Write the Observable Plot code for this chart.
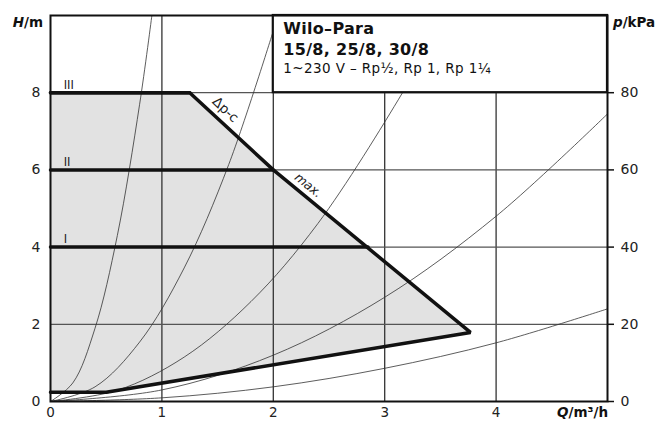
<!DOCTYPE html>
<html>
<head>
<meta charset="utf-8">
<script src="https://cdn.jsdelivr.net/npm/d3@7"></script>
<script src="https://cdn.jsdelivr.net/npm/@observablehq/plot@0.6"></script>
<style>
  html, body { margin: 0; padding: 0; background: #fff; overflow: hidden; }
  #chart svg { display: block; }
</style>
</head>
<body>
<div id="chart"></div>
<script>
// ---------- data ----------
const qTicks = [0, 1, 2, 3, 4];
const hTicks = [0, 2, 4, 6, 8];
const pTickLabels = ["0", "20", "40", "60", "80"];

// operating envelope (grey area, Δp-c / max. boundary)
const envQ = [0, 1.25, 2, 3.77, 0.5, 0];
const envH = [8, 8, 6, 1.79, 0.24, 0.24];

// speed stages
const stageNames = ["III", "II", "I"];
const stageH = [8, 6, 4];
const stageQEnd = [1.25, 2, 2.85];

// system curves (thin lines through the origin)
const sysA_Q = [0, 0.2, 0.4, 0.6, 0.8, 0.91];
const sysA_H = [0, 0.48, 1.9, 4.3, 7.7, 10];
const sysB_Q = [0, 0.4, 0.8, 1.2, 1.6, 2.0];
const sysB_H = [0, 0.38, 1.54, 3.46, 6.14, 9.6];
const sysC_Q = [0, 0.6, 1.2, 1.8, 2.4, 3.16, 3.4];
const sysC_H = [0, 0.29, 1.15, 2.59, 4.61, 8.0, 9.25];
const sysD_Q = [0, 1, 2, 3, 4, 5];
const sysD_H = [0, 0.3, 1.2, 2.7, 4.8, 7.45];
const sysE_Q = [0, 1, 2, 3, 4, 5];
const sysE_H = [0, 0.095, 0.38, 0.86, 1.52, 2.4];

const titleLines = ["Wilo–Para", "15/8, 25/8, 30/8", "1~230 V – Rp½, Rp 1, Rp 1¼"];
const curveLabels = ["Δp-c", "max."];

// ---------- tables ----------
const envelope = envQ.map((q, i) => ({q, h: envH[i]}));
const stages = stageNames.flatMap((n, i) => [
  {n, q: 0, h: stageH[i]}, {n, q: stageQEnd[i], h: stageH[i]}
]);
const stageLabels = stageNames.map((n, i) => ({n, q: 0.1, h: stageH[i]}));
const sysCurves = [
  ["A", sysA_Q, sysA_H], ["B", sysB_Q, sysB_H], ["C", sysC_Q, sysC_H],
  ["D", sysD_Q, sysD_H], ["E", sysE_Q, sysE_H]
].flatMap(([id, Q, H]) => Q.map((q, i) => ({id, q, h: H[i]})));

const font = "DejaVu Sans";

const chart = Plot.plot({
  width: 661,
  height: 421,
  marginLeft: 50,
  marginRight: 54,
  marginTop: 15,
  marginBottom: 20,
  x: {domain: [0, 5], axis: null},
  y: {domain: [0, 10], axis: null},
  style: {fontFamily: font, fontSize: "14px", background: "white", color: "#222"},
  marks: [
    // grey operating field
    Plot.line(envelope, {x: "q", y: "h", fill: "#e2e2e2", stroke: "none"}),
    // grid
    Plot.ruleX([1, 2, 3, 4], {stroke: "#333", strokeWidth: 1.3}),
    Plot.ruleY([2, 4, 6, 8], {stroke: "#555", strokeWidth: 1.2}),
    // system curves
    Plot.line(sysCurves, {x: "q", y: "h", z: "id", stroke: "#333", strokeWidth: 0.8, curve: "catmull-rom", clip: true}),
    // stage lines
    Plot.line(stages, {x: "q", y: "h", z: "n", stroke: "#111", strokeWidth: 3.5}),
    // envelope outline
    Plot.line(envelope, {x: "q", y: "h", stroke: "#111", strokeWidth: 3.5, strokeLinejoin: "miter"}),
    // title box
    Plot.rect([{x1: 2, x2: 5, y1: 8, y2: 10}], {x1: "x1", x2: "x2", y1: "y1", y2: "y2", fill: "white", stroke: "#111", strokeWidth: 2.2}),
    Plot.text([titleLines[0]], {x: 2, y: 10, text: d => d, dx: 10, dy: 18, textAnchor: "start", lineAnchor: "bottom", fontWeight: "bold", fontSize: 16, fill: "#111"}),
    Plot.text([titleLines[1]], {x: 2, y: 10, text: d => d, dx: 10, dy: 39, textAnchor: "start", lineAnchor: "bottom", fontWeight: "bold", fontSize: 16, fill: "#111"}),
    Plot.text([titleLines[2]], {x: 2, y: 10, text: d => d, dx: 10, dy: 57, textAnchor: "start", lineAnchor: "bottom", fontSize: 13.5, fill: "#111"}),
    // stage labels
    Plot.text(stageLabels, {x: "q", y: "h", text: "n", dx: 2, dy: -4, textAnchor: "start", lineAnchor: "bottom", fontSize: 11.5, fill: "#222"}),
    // curve labels
    Plot.text([curveLabels[0]], {x: 1.57, y: 7.56, text: d => d, rotate: 43, fontSize: 13.5, fill: "#222"}),
    Plot.text([curveLabels[1]], {x: 2.314, y: 5.6, text: d => d, rotate: 39, fontSize: 12.5, fontStyle: "italic", fill: "#222"}),
    // axes
    Plot.axisY(hTicks, {anchor: "left", tickSize: 0, tickPadding: 10, fontSize: 14}),
    Plot.axisY(hTicks, {anchor: "right", tickSize: 6, tickPadding: 7, fontSize: 14, stroke: "#111", strokeWidth: 1.5,
      tickFormat: d => pTickLabels[hTicks.indexOf(d)]}),
    Plot.axisX(qTicks, {anchor: "bottom", tickSize: 0, tickPadding: 6, fontSize: 13.5}),
    Plot.frame({stroke: "#111", strokeWidth: 2})
  ]
});

document.getElementById("chart").appendChild(chart);

// title box lines: widen slightly to match the reference typeface
d3.select(chart).selectAll("text").filter(function () {
  return titleLines.includes(this.textContent);
}).attr("letter-spacing", function () {
  return this.textContent === titleLines[2] ? "0.4px" : "0.3px";
});

// axis titles with mixed styling
const svg = d3.select(chart);
function title(x, y, anchor, parts) {
  const t = svg.append("text").attr("x", x).attr("y", y).attr("text-anchor", anchor)
    .attr("font-family", font).attr("font-size", 13.5).attr("font-weight", "bold").attr("fill", "#111");
  parts.forEach(([s, it]) => t.append("tspan").attr("font-style", it ? "italic" : "normal").text(s));
}
title(43, 27, "end", [["H", true], ["/m", false]]);
title(613, 27, "start", [["p", true], ["/kPa", false]]);
title(608, 417, "end", [["Q", true], ["/m³/h", false]]);
</script>
</body>
</html>
